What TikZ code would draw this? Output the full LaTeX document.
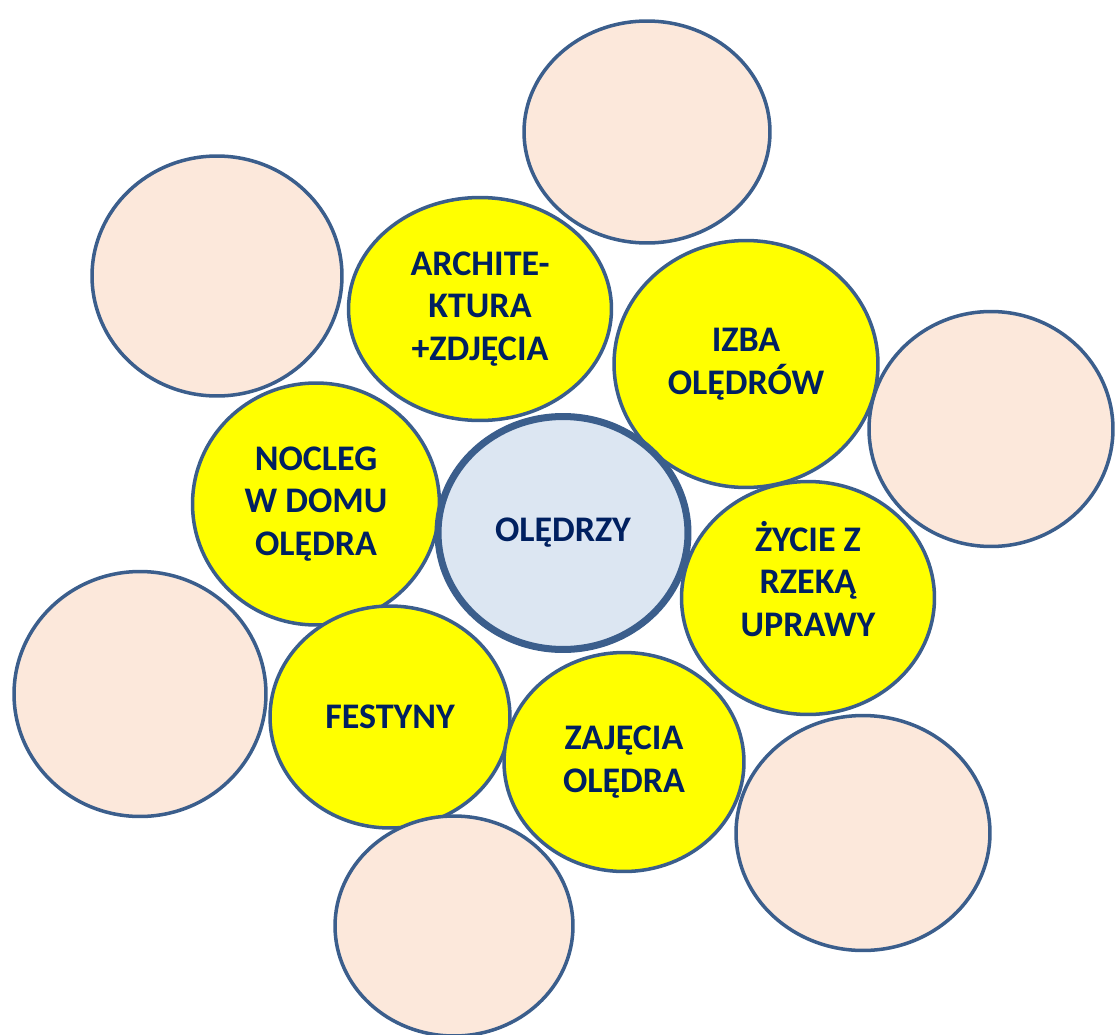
\documentclass[tikz,border=0pt]{standalone}
\usepackage{fontspec}
\setmainfont{Carlito}
\usetikzlibrary{shapes.geometric}
\definecolor{rim}{HTML}{3B5E8C}
\definecolor{ink}{HTML}{002060}
\definecolor{peach}{HTML}{FCE8DB}
\definecolor{pale}{HTML}{DCE6F2}
\definecolor{lemon}{HTML}{FFFF00}
\begin{document}
\begin{tikzpicture}
      [
        x=0.02cm, y=-0.02cm,
        words/.style={align=center, text=ink, inner sep=0pt,
          font=\fontsize{20.5}{24.3}\selectfont\bfseries},
        blob/.style={words, ellipse, draw=rim, line width=2pt},
        topic/.style={blob, fill=lemon},
        empty/.style={blob, fill=peach},
        hub/.style={blob, fill=pale, line width=4pt}
      ]
      \useasboundingbox (0,0) rectangle (1115,1034);
      % empty circles behind
      \foreach \n/\x/\y/\w/\h in {e1/647/132/4.92/4.44, e2/217/276/5.0/4.8,
          e3/991/429/4.88/4.7, e4/140/694/5.04/4.9} {
          \node [empty, minimum width=\w cm, minimum height=\h cm] (\n) at (\x,\y) {};
      }
      % topics
      \node [topic, minimum width=5.26cm, minimum height=4.46cm] (arch) at (480,309)
        {ARCHITE-\\KTURA\\+ZDJĘCIA};
      \node [topic, minimum width=5.28cm, minimum height=4.94cm] (izba) at (746,364)
        {IZBA\\OLĘDRÓW};
      \node [topic, minimum width=4.94cm, minimum height=4.84cm] (nocleg) at (316,504)
        {NOCLEG\\W DOMU\\OLĘDRA};
      \node [topic, minimum width=5.06cm, minimum height=4.66cm] (zycie) at (808,598) {};
      \node [words] (zycietext) at (808,579) {ŻYCIE Z\\RZEKĄ\\UPRAWY};
      \node [topic, minimum width=4.8cm, minimum height=4.44cm] (festyny) at (390,717)
        {FESTYNY};
      \node [topic, minimum width=4.8cm, minimum height=4.38cm] (zajecia) at (624,762)
        {ZAJĘCIA\\OLĘDRA};
      % centre
      \node [hub, minimum width=5.0cm, minimum height=4.66cm] (olendrzy) at (563,533)
        {OLĘDRZY};
      % empty circles in front
      \foreach \n/\x/\y/\w/\h in {e5/863/833/5.08/4.7, e6/454/926/4.76/4.4} {
          \node [empty, minimum width=\w cm, minimum height=\h cm] (\n) at (\x,\y) {};
      }
\end{tikzpicture}
\end{document}
